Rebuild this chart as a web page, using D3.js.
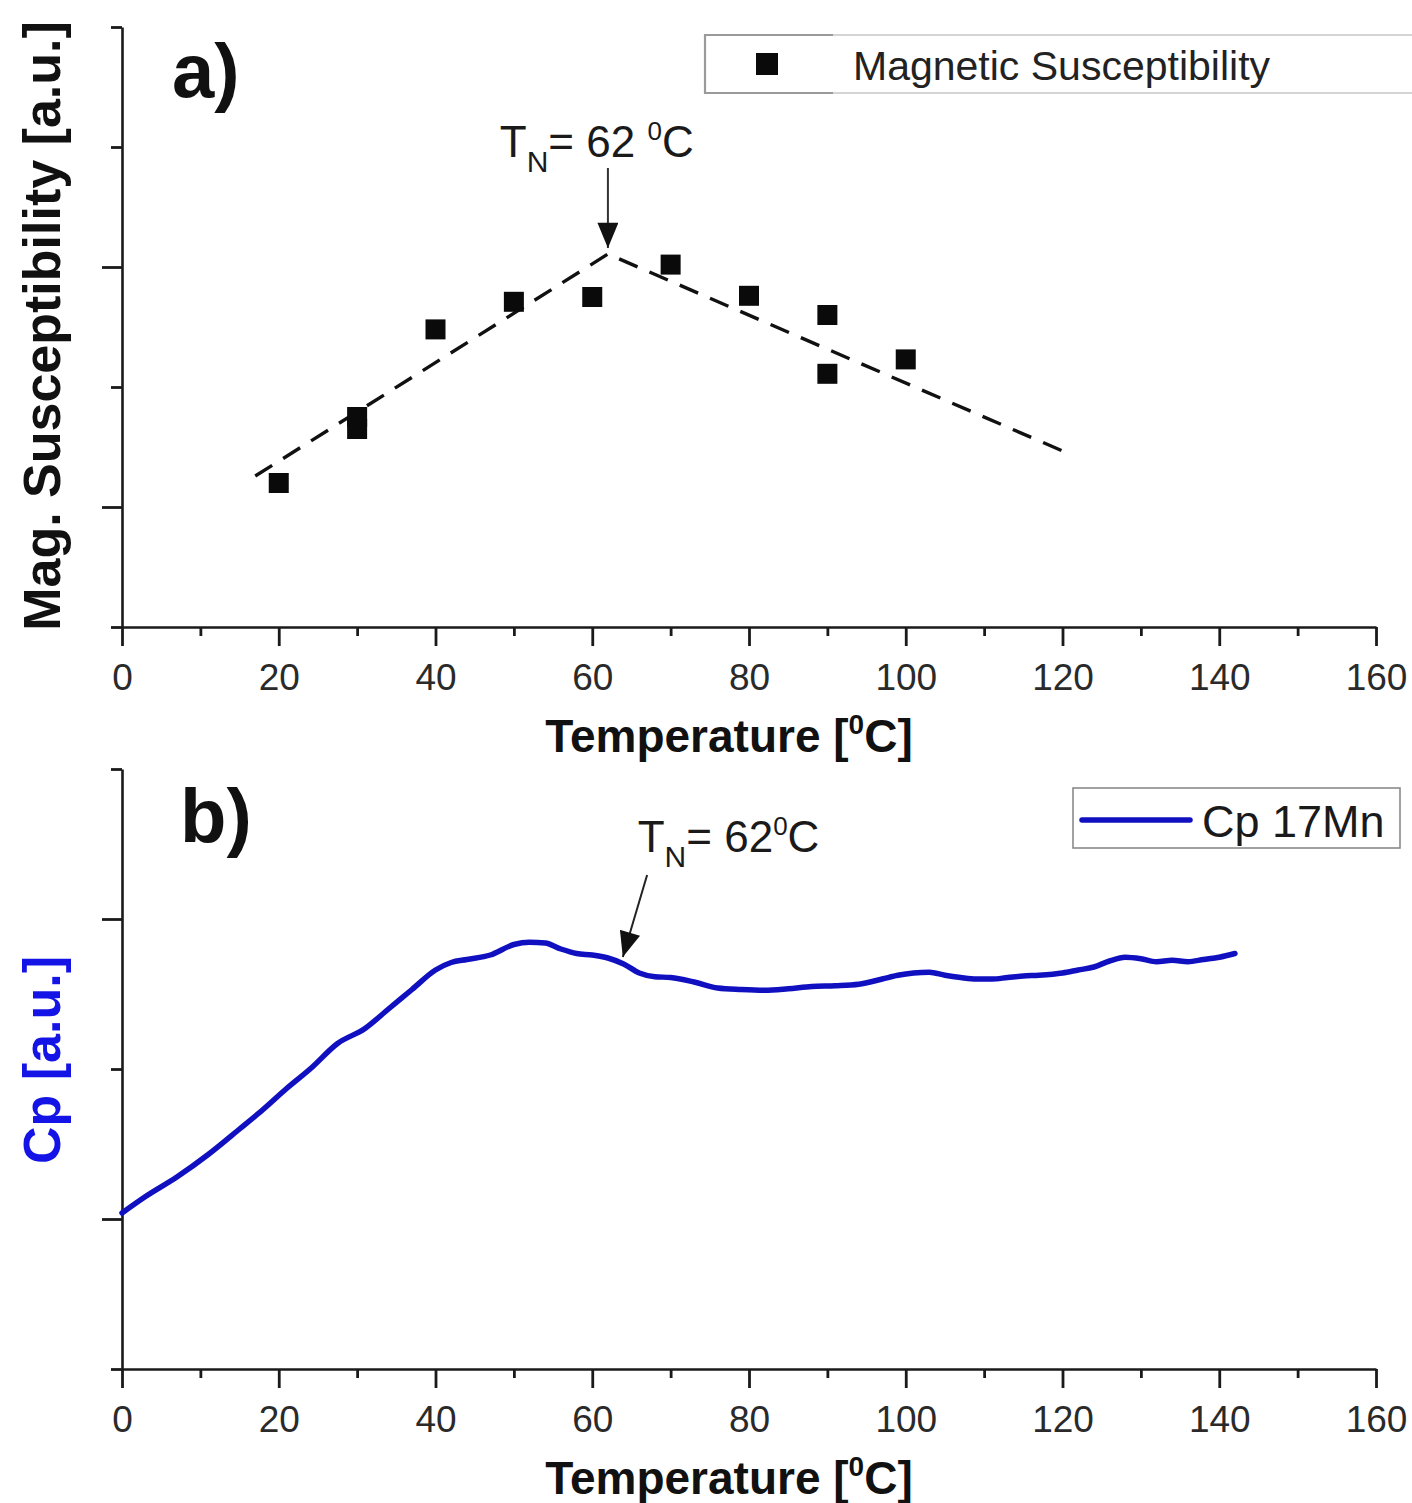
<!DOCTYPE html>
<html>
<head>
<meta charset="utf-8">
<script src="https://cdn.jsdelivr.net/npm/d3@7"></script>
<style>
  html, body { margin: 0; padding: 0; background: #fff; }
  svg { display: block; font-family: "Liberation Sans", Arial, sans-serif; }
</style>
</head>
<body>
<svg id="chart" width="1412" height="1503"></svg>
<script>
// ---- Panel a: magnetic susceptibility vs temperature ----
const susT   = [20, 30, 30, 40, 50, 60, 70, 80, 90, 90, 100];
const susVal = [1.20, 1.75, 1.65, 2.48, 2.71, 2.75, 3.02, 2.76, 2.60, 2.11, 2.23];
// dashed guide lines meeting at the Néel temperature
const fitT   = [17, 62, 120];
const fitVal = [1.258, 3.108, 1.467];

// ---- Panel b: heat capacity of 17Mn ----
const cpT = [0, 3, 7, 11, 15, 18, 21, 24, 27.5, 31, 34, 37, 40, 42, 44, 47, 50, 52, 54, 56,
             58, 60, 62, 64, 66, 68, 70, 73, 76, 79, 82, 85, 88, 91, 94, 97, 99, 101, 103, 105,
             107, 109, 111, 113, 115, 117, 120, 122, 124, 126, 128, 130, 132, 134, 136, 138, 140, 142];
const cpVal = [1.04, 1.15, 1.28, 1.43, 1.60, 1.73, 1.87, 2.00, 2.17, 2.27, 2.40, 2.53, 2.66, 2.71, 2.73, 2.76, 2.83, 2.845, 2.84, 2.80,
               2.77, 2.76, 2.74, 2.70, 2.64, 2.615, 2.61, 2.58, 2.54, 2.53, 2.525, 2.535, 2.55, 2.555, 2.565, 2.60, 2.625, 2.64, 2.645, 2.625,
               2.61, 2.60, 2.60, 2.61, 2.62, 2.625, 2.64, 2.66, 2.68, 2.72, 2.745, 2.735, 2.715, 2.725, 2.715, 2.73, 2.745, 2.77];

// axis ticks
const xMajor = [0, 20, 40, 60, 80, 100, 120, 140, 160];
const xMinor = [10, 30, 50, 70, 90, 110, 130, 150];
const yAMajor = [1, 3];
const yAMinor = [0, 2, 4, 5];
const yBMajor = [1, 3];
const yBMinor = [0, 2, 4];

// annotations (data coordinates)
const tnA = { textT: 48.2, textV: 3.917, fromT: 62, fromV: 3.825, toT: 62, toV: 3.158 };
const tnB = { textT: 65.8, textV: 3.447, fromT: 67.0, fromV: 3.293, toT: 63.9, toV: 2.747 };

const AXIS = "#1a1a1a";
const TICKTXT = "#2a2a2a";
const BLUE = "#1010c0";

const svg = d3.select("#chart");
svg.append("rect").attr("width", 1412).attr("height", 1503).attr("fill", "#fff");

const x = d3.scaleLinear().domain([0, 160]).range([122, 1376]);
const yA = d3.scaleLinear().domain([0, 5]).range([627, 27]);
const yB = d3.scaleLinear().domain([0, 4]).range([1369, 769]);

const defs = svg.append("defs");
defs.append("marker")
  .attr("id", "arrowHead")
  .attr("viewBox", "0 0 12 10")
  .attr("refX", 12).attr("refY", 5)
  .attr("markerUnits", "userSpaceOnUse")
  .attr("markerWidth", 26).attr("markerHeight", 21)
  .attr("orient", "auto")
  .append("path").attr("d", "M0,0 L12,5 L0,10 Z").attr("fill", "#111");

function styleAxis(g) {
  g.select(".domain").attr("stroke", AXIS).attr("stroke-width", 2.6);
  g.selectAll(".tick line").attr("stroke", AXIS).attr("stroke-width", 2.8);
  g.selectAll(".tick text").attr("fill", TICKTXT).attr("font-size", 37)
    .attr("font-family", "Liberation Sans, Arial, sans-serif");
}

function drawAxes(yScale, yMajor, yMinor, y0) {
  // x axis
  const gx = svg.append("g").attr("transform", `translate(0,${y0})`);
  gx.call(d3.axisBottom(x).tickValues(xMajor).tickSize(19).tickSizeOuter(0).tickPadding(18).tickFormat(d3.format("d")));
  styleAxis(gx);
  const gxm = svg.append("g").attr("transform", `translate(0,${y0})`);
  gxm.call(d3.axisBottom(x).tickValues(xMinor).tickSize(9).tickSizeOuter(0).tickFormat(""));
  gxm.select(".domain").remove();
  styleAxis(gxm);
  // y axis
  const gy = svg.append("g").attr("transform", `translate(${x(0)},0)`);
  gy.call(d3.axisLeft(yScale).tickValues(yMajor).tickSize(20).tickSizeOuter(0).tickFormat(""));
  styleAxis(gy);
  const gym = svg.append("g").attr("transform", `translate(${x(0)},0)`);
  gym.call(d3.axisLeft(yScale).tickValues(yMinor).tickSize(11).tickSizeOuter(0).tickFormat(""));
  gym.select(".domain").remove();
  styleAxis(gym);

  // x axis title
  const t = svg.append("text")
    .attr("x", 729).attr("y", y0 + 125)
    .attr("text-anchor", "middle")
    .attr("font-size", 46).attr("font-weight", "bold").attr("fill", "#111");
  t.append("tspan").text("Temperature [");
  t.append("tspan").attr("font-size", 28).attr("dy", -18).text("0");
  t.append("tspan").attr("dy", 18).text("C]");
}

function tnLabel(xp, yp, spaced) {
  const t = svg.append("text").attr("x", xp).attr("y", yp)
    .attr("font-size", 44).attr("fill", "#1a1a1a");
  t.append("tspan").text("T");
  t.append("tspan").attr("font-size", 30).attr("dy", 15).text("N");
  t.append("tspan").attr("dy", -15).text(spaced ? "= 62 " : "= 62");
  t.append("tspan").attr("font-size", 26).attr("dy", -17).text("0");
  t.append("tspan").attr("dy", 17).text("C");
}

// ================= Panel a =================
drawAxes(yA, yAMajor, yAMinor, 627);

svg.append("text")
  .attr("transform", `translate(60,${(20 + 632) / 2}) rotate(-90)`)
  .attr("text-anchor", "middle")
  .attr("font-size", 52).attr("font-weight", "bold").attr("fill", "#111")
  .text("Mag. Susceptibility [a.u.]");

svg.append("text").attr("x", 172).attr("y", 97)
  .attr("font-size", 76).attr("font-weight", "bold").attr("fill", "#111").text("a)");

// dashed guide
svg.append("path")
  .datum(fitT.map((t, i) => [t, fitVal[i]]))
  .attr("fill", "none").attr("stroke", "#111").attr("stroke-width", 3.4)
  .attr("stroke-dasharray", "20,13")
  .attr("d", d3.line().x(d => x(d[0])).y(d => yA(d[1])));

// susceptibility points
const ms = 20;
svg.append("g").selectAll("rect")
  .data(susT.map((t, i) => [t, susVal[i]]))
  .join("rect")
  .attr("x", d => x(d[0]) - ms / 2).attr("y", d => yA(d[1]) - ms / 2)
  .attr("width", ms).attr("height", ms).attr("fill", "#0a0a0a");

// Néel temperature annotation
tnLabel(x(tnA.textT), yA(tnA.textV), true);
svg.append("line")
  .attr("x1", x(tnA.fromT)).attr("y1", yA(tnA.fromV))
  .attr("x2", x(tnA.toT)).attr("y2", yA(tnA.toV))
  .attr("stroke", "#333").attr("stroke-width", 2)
  .attr("marker-end", "url(#arrowHead)");

// legend a (box runs past the right edge)
const legA = svg.append("g");
legA.append("rect").attr("x", 705).attr("y", 35).attr("width", 760).attr("height", 58)
  .attr("fill", "#fff").attr("stroke", "#d4d4d4").attr("stroke-width", 2);
legA.append("path").attr("d", "M833,35 H705 V93 H833")
  .attr("fill", "none").attr("stroke", "#9a9a9a").attr("stroke-width", 2.2);
legA.append("rect").attr("x", 767 - 11).attr("y", 64 - 11).attr("width", 22).attr("height", 22).attr("fill", "#0a0a0a");
legA.append("text").attr("x", 853).attr("y", 80).attr("font-size", 41).attr("fill", "#222")
  .text("Magnetic Susceptibility");

// ================= Panel b =================
drawAxes(yB, yBMajor, yBMinor, 1369);

svg.append("text")
  .attr("transform", `translate(60,1060) rotate(-90)`)
  .attr("text-anchor", "middle")
  .attr("font-size", 52).attr("font-weight", "bold").attr("fill", "#1414e6")
  .text("Cp [a.u.]");

svg.append("text").attr("x", 180).attr("y", 842)
  .attr("font-size", 76).attr("font-weight", "bold").attr("fill", "#111").text("b)");

svg.append("path")
  .datum(cpT.map((t, i) => [t, cpVal[i]]))
  .attr("fill", "none").attr("stroke", BLUE).attr("stroke-width", 5.5)
  .attr("stroke-linejoin", "round").attr("stroke-linecap", "round")
  .attr("d", d3.line().curve(d3.curveMonotoneX).x(d => x(d[0])).y(d => yB(d[1])));

tnLabel(x(tnB.textT), yB(tnB.textV), false);
svg.append("line")
  .attr("x1", x(tnB.fromT)).attr("y1", yB(tnB.fromV))
  .attr("x2", x(tnB.toT)).attr("y2", yB(tnB.toV))
  .attr("stroke", "#222").attr("stroke-width", 2)
  .attr("marker-end", "url(#arrowHead)");

// legend b
const legB = svg.append("g");
legB.append("rect").attr("x", 1073).attr("y", 788).attr("width", 327).attr("height", 60)
  .attr("fill", "#fff").attr("stroke", "#8a8a8a").attr("stroke-width", 1.6);
legB.append("line").attr("x1", 1082).attr("x2", 1190).attr("y1", 820).attr("y2", 820)
  .attr("stroke", BLUE).attr("stroke-width", 5.5).attr("stroke-linecap", "round");
legB.append("text").attr("x", 1202).attr("y", 837).attr("font-size", 45).attr("fill", "#1a1a1a")
  .text("Cp 17Mn");
</script>
</body>
</html>
